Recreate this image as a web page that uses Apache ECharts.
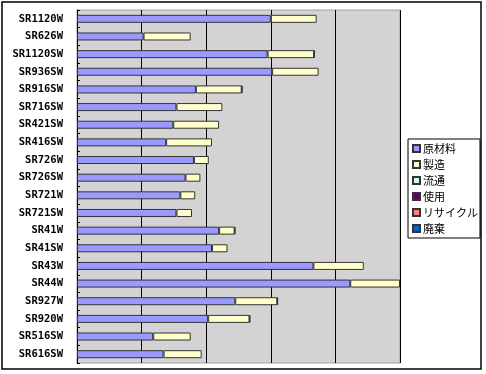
<!DOCTYPE html>
<html>
<head>
<meta charset="utf-8">
<script src="https://cdn.jsdelivr.net/npm/echarts@6/dist/echarts.min.js"></script>
<style>
html,body{margin:0;padding:0;background:#fff;}
#chart{width:486px;height:374px;}
</style>
</head>
<body>
<div id="chart"></div>
<script>
var categories = ['SR1120W','SR626W','SR1120SW','SR936SW','SR916SW','SR716SW','SR421SW','SR416SW','SR726W','SR726SW','SR721W','SR721SW','SR41W','SR41SW','SR43W','SR44W','SR927W','SR920W','SR516SW','SR616SW'];
var seriesNames = ['原材料','製造','流通','使用','リサイクル','廃棄'];
var rawMaterial = [300,103,295,302,184,154,149,138,181,168,160,154,220,209,366,423,245,203,118,134];
var manufacturing = [71,73,72,72,71,71,71,71,23,23,23,24,24,24,78,77,65,64,58,59];
var distribution = [0,0,0,0,0,0,0,0,0,0,0,0,0,0,0,0,0,0,0,0];
var usage = [0,0,1,0,1,0,0,0,0,0,0,0,1,0,0,1,1,1,0,0];
var recycling = [0,0,0,0,0,0,0,0,0,0,0,0,0,0,0,0,0,0,0,0];
var disposal = [0,0,0,0,0,0,0,0,0,0,0,0,0,0,0,0,0,0,0,0];
var colors = ['#9999FF','#FFFFCC','#CCFFFF','#660066','#FF8080','#0066CC'];
var allData = [rawMaterial, manufacturing, distribution, usage, recycling, disposal];

var chart = echarts.init(document.getElementById('chart'), null, {renderer:'canvas'});
var series = seriesNames.map(function(name, i){
  return {
    name: name,
    type: 'bar',
    stack: 'total',
    barWidth: 8,
    itemStyle: {color: colors[i], borderColor: '#333', borderWidth: 1},
    emphasis: {disabled: true},
    data: allData[i].map(function(v){ return v === 0 ? '-' : v; })
  };
});
chart.setOption({
  animation: false,
  graphic: [{
    type: 'rect', shape: {x: 2, y: 2, width: 479, height: 367},
    style: {fill: 'none', stroke: '#000', lineWidth: 1.5}, z: 100, silent: true
  }],
  grid: {left: 77, top: 10, right: 86, bottom: 11, show: true, backgroundColor: '#D3D3D3', borderColor: '#A0A0A0', borderWidth: 1},
  legend: {
    orient: 'vertical', left: 408, top: 139,
    itemWidth: 7, itemHeight: 7, itemGap: 5,
    icon: 'rect',
    backgroundColor: '#fff', borderColor: '#000', borderWidth: 1,
    padding: [4, 2, 4, 4],
    textStyle: {fontFamily: '"Noto Sans CJK JP"', fontSize: 11, color: '#000', padding: [0,0,0,-2]},
    data: seriesNames
  },
  xAxis: {
    type: 'value', min: 0, max: 500, interval: 100,
    axisLabel: {show: false}, axisLine: {show: false}, axisTick: {show: false},
    splitLine: {show: true, lineStyle: {color: '#000', width: 1}}
  },
  yAxis: {
    type: 'category', inverse: true, data: categories,
    axisLine: {show: true, lineStyle: {color: '#000', width: 1}},
    axisTick: {show: true, inside: true, length: 3, lineStyle: {color: '#000'}},
    axisLabel: {margin: 14, fontFamily: '"DejaVu Sans Mono"', fontWeight: 'bold', fontSize: 10.5, color: '#000'}
  },
  series: series
});
</script>
</body>
</html>
